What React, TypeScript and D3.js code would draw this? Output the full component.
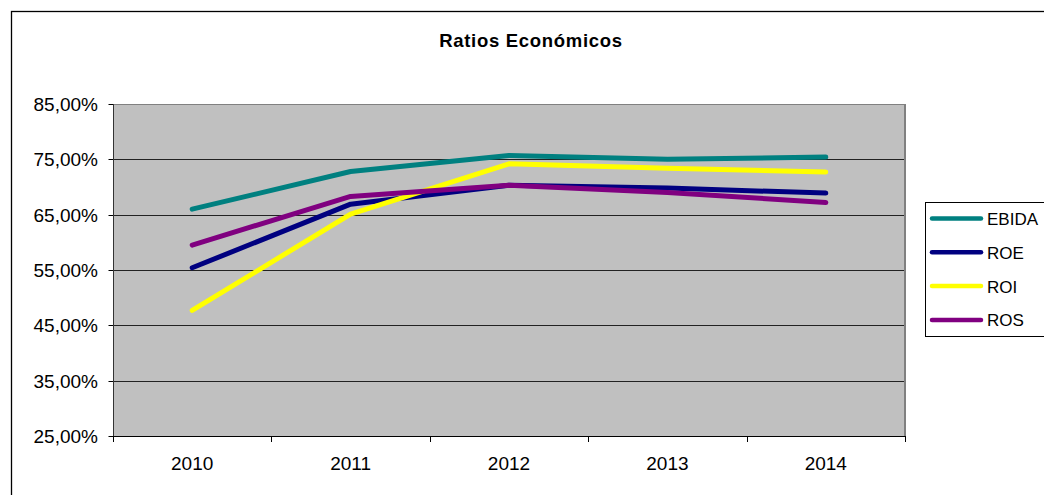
import React from "react";
import * as d3 from "d3";

const categories = ["2010", "2011", "2012", "2013", "2014"];
const seriesNames = ["EBIDA", "ROE", "ROI", "ROS"];
const seriesColors = ["#008080", "#000080", "#FFFF00", "#800080"];
const ebida = [66.0, 72.8, 75.7, 75.0, 75.4];
const roe = [55.4, 66.9, 70.3, 69.8, 68.9];
const roi = [47.7, 65.1, 74.2, 73.4, 72.7];
const ros = [59.5, 68.3, 70.3, 69.0, 67.2];
const yTicks = [25, 35, 45, 55, 65, 75, 85];
const title = "Ratios Económicos";

const seriesValues = [ebida, roe, roi, ros];

const W = 1044;
const H = 495;
const plot = { left: 113, right: 905, top: 104, bottom: 436 };
const FONT = "'Liberation Sans', Arial, sans-serif";

export default function App() {
  const x = d3
    .scaleBand<string>()
    .domain(categories)
    .range([plot.left, plot.right])
    .paddingInner(0)
    .paddingOuter(0);
  const y = d3.scaleLinear().domain([25, 85]).range([plot.bottom, plot.top]);
  const line = d3
    .line<number>()
    .x((_, i) => (x(categories[i]) as number) + x.bandwidth() / 2)
    .y((d) => y(d));

  const fmt = (v: number) => v.toFixed(2).replace(".", ",") + "%";
  const boundaries = [...categories.map((c) => x(c) as number), plot.right];

  return (
    <svg
      width={W}
      height={H}
      style={{ position: "absolute", left: 0, top: 0, background: "#fff" }}
      fontFamily={FONT}
    >
      <rect x={0} y={0} width={W} height={H} fill="#fff" />
      {/* outer chart border */}
      <rect x={11.5} y={11.5} width={W + 20} height={H + 20} fill="none" stroke="#000" strokeWidth={1.3} />
      <text x={531} y={46.5} textAnchor="middle" fontWeight="bold" fontSize={18.5} letterSpacing={0.7} fill="#000">
        {title}
      </text>
      {/* plot area */}
      <rect
        x={plot.left}
        y={plot.top}
        width={plot.right - plot.left}
        height={plot.bottom - plot.top}
        fill="#C0C0C0"
      />
      {yTicks.slice(1, -1).map((t) => (
        <line
          key={"g" + t}
          x1={plot.left}
          x2={plot.right}
          y1={Math.round(y(t)) + 0.5}
          y2={Math.round(y(t)) + 0.5}
          stroke="#222"
          strokeWidth={1}
        />
      ))}
      {/* plot border */}
      <line x1={plot.left} x2={plot.right} y1={plot.top + 0.5} y2={plot.top + 0.5} stroke="#808080" />
      <line x1={plot.right} x2={plot.right} y1={plot.top} y2={plot.bottom} stroke="#808080" strokeWidth={2} />
      {/* y axis */}
      <line x1={plot.left + 0.5} x2={plot.left + 0.5} y1={plot.top} y2={plot.bottom + 1} stroke="#333" />
      {yTicks.map((t) => (
        <g key={"y" + t}>
          <line x1={108.5} x2={plot.left} y1={Math.round(y(t)) + 0.5} y2={Math.round(y(t)) + 0.5} stroke="#000" />
          <text x={98} y={y(t) + 7} textAnchor="end" fontSize={19} fill="#000">
            {fmt(t)}
          </text>
        </g>
      ))}
      {/* x axis */}
      <line x1={plot.left} x2={plot.right + 1} y1={plot.bottom + 0.5} y2={plot.bottom + 0.5} stroke="#000" />
      {boundaries.map((b, i) => (
        <line key={"xt" + i} x1={Math.round(b) + 0.5} x2={Math.round(b) + 0.5} y1={plot.bottom} y2={plot.bottom + 6} stroke="#000" />
      ))}
      {categories.map((c) => (
        <text
          key={"x" + c}
          x={(x(c) as number) + x.bandwidth() / 2}
          y={470}
          textAnchor="middle"
          fontSize={19}
          fill="#000"
        >
          {c}
        </text>
      ))}
      {/* series */}
      {seriesValues.map((vals, i) => (
        <path
          key={seriesNames[i]}
          d={line(vals) || ""}
          fill="none"
          stroke={seriesColors[i]}
          strokeWidth={5}
          strokeLinecap="round"
          strokeLinejoin="round"
        />
      ))}
      {/* legend */}
      <rect x={925.5} y={202.5} width={140} height={134} fill="#fff" stroke="#000" strokeWidth={1} />
      {seriesNames.map((n, i) => {
        const ly = 218.5 + i * 33.8;
        return (
          <g key={"l" + n}>
            <line x1={932} x2={981} y1={ly} y2={ly} stroke={seriesColors[i]} strokeWidth={4.5} strokeLinecap="round" />
            <text x={987} y={ly + 6.5} fontSize={17} fill="#000">
              {n}
            </text>
          </g>
        );
      })}
    </svg>
  );
}
